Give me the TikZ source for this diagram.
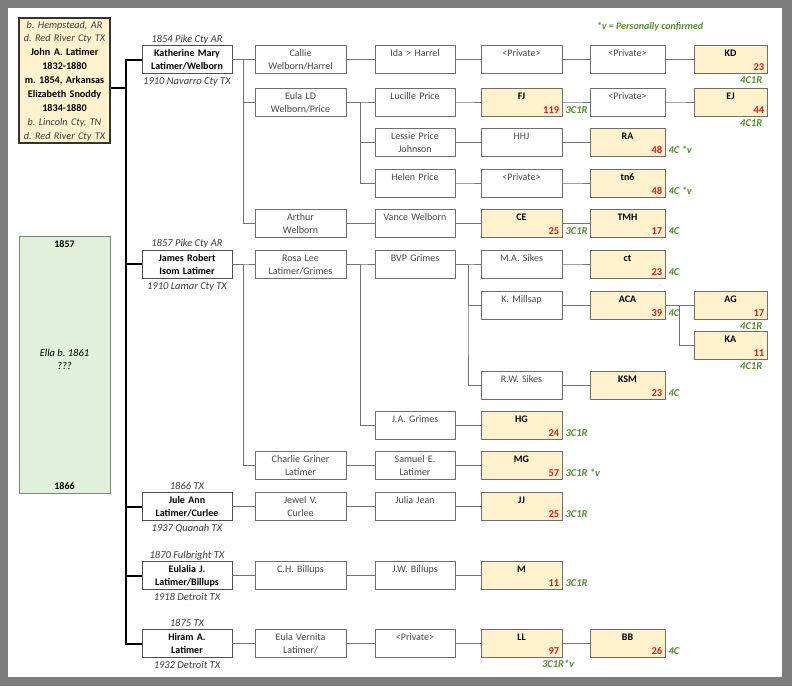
\documentclass[tikz,border=0pt]{standalone}
\usepackage{fontspec}
\setmainfont{Carlito}
\usetikzlibrary{calc}
\frenchspacing

\definecolor{framegray}{RGB}{125,125,125}
\definecolor{boxline}{RGB}{110,110,110}
\definecolor{personline}{RGB}{80,80,80}
\definecolor{linkgray}{RGB}{115,115,115}
\definecolor{kintext}{RGB}{70,70,70}
\definecolor{placetext}{RGB}{60,60,60}
\definecolor{matchfill}{RGB}{255,242,204}
\definecolor{ellafill}{RGB}{226,239,218}
\definecolor{ellaline}{RGB}{125,135,120}
\definecolor{cmred}{RGB}{230,25,25}
\definecolor{relgreen}{RGB}{84,140,46}

\begin{document}
\begin{tikzpicture}[x=1pt,y=-1pt,
        kin node/.style={draw=boxline,fill=white,text=kintext,line width=0.8pt,align=center,inner xsep=2pt,inner ysep=0pt,text height=11pt,text depth=17pt,font=\fontsize{10}{13}\selectfont},
        person node/.style={kin node,draw=personline,text=black,font=\fontsize{10}{13}\selectfont\bfseries,text width=86pt},
        match node/.style={kin node,fill=matchfill,text=black,font=\fontsize{10}{13}\selectfont\bfseries},
        root node/.style={draw=black!80,line width=1.4pt,fill=matchfill,align=center,inner xsep=2pt,inner ysep=0pt,text width=87pt,text height=10pt,text depth=115pt,font=\fontsize{10.2}{13.9}\selectfont},
        ella node/.style={draw=ellaline,line width=0.8pt,fill=ellafill,align=center,inner xsep=2pt,inner ysep=0pt,text width=87pt,text height=11pt,text depth=246pt,font=\fontsize{10}{13}\selectfont\bfseries},
        place node/.style={anchor=base,inner sep=0pt,text=placetext,font=\fontsize{10.5}{13}\selectfont\itshape},
        cm node/.style={anchor=base east,inner sep=0pt,text=cmred,font=\fontsize{10.5}{12}\selectfont\bfseries},
        rel node/.style={inner sep=0pt,text=relgreen,font=\fontsize{10.5}{12}\selectfont\bfseries\itshape},
        w2/.style={text width=87pt},
        w3/.style={text width=76pt},
        w4/.style={text width=77pt},
        w5/.style={text width=71pt},
        w6/.style={text width=69pt},
        link/.style={every edge/.style={draw=linkgray,line width=0.8pt,to path={-| ($(\tikztostart)!.5!(\tikztotarget)$) |- (\tikztotarget)}}},
        trunk/.style={every edge/.style={draw=black,line width=2pt,to path={-| ($(\tikztostart)!.5!(\tikztotarget)$) |- (\tikztotarget)}}}]
                \fill[framegray] (0,0) rectangle (792,686);
                \fill[white] (8,8) rectangle (782,677);

                \node[root node] (0) at (64.5,80.5) {\textcolor{placetext}{\itshape b. Hempstead, AR}\\\textcolor{placetext}{\itshape d. Red River Cty TX}\\\textbf{John A. Latimer}\\\textbf{1832-1880}\\\textbf{m. 1854, Arkansas}\\\textbf{Elizabeth Snoddy}\\\textbf{1834-1880}\\\textcolor{placetext}{\itshape b. Lincoln Cty, TN}\\\textcolor{placetext}{\itshape d. Red River Cty TX}};
                \coordinate (r) at ([shift={(0,7.5)}]0.east);
                \node[ella node] (51) at (64.5,364.5) {1857};
                \node[place node,anchor=center,align=center,text=black] (51a) at (64.5,359) {Ella b. 1861\\???};
                \node[place node,text=black,font=\fontsize{10}{13}\selectfont\bfseries] (51b) at ([shift={(0,-4)}]51.south) {1866};
                \node[rel node,anchor=base,font=\fontsize{10}{12}\selectfont\bfseries\itshape] (key) at (650,29) {*v = Personally confirmed};

                \node[person node] (1) at (187,59.5) {Katherine Mary\\Latimer/Welborn};
                \node[person node] (2) at (187,264) {James Robert\\Isom Latimer};
                \node[person node] (3) at (187,506.5) {Jule Ann\\Latimer/Curlee};
                \node[person node] (4) at (187,575.5) {Eulalia J.\\Latimer/Billups};
                \node[person node] (5) at (187,643.5) {Hiram A.\\Latimer};
                \node[place node] (1a) at ([shift={(0,-3)}]1.north) {1854 Pike Cty AR};
                \node[place node] (1b) at ([shift={(0,11)}]1.south) {1910 Navarro Cty TX};
                \node[place node] (2a) at ([shift={(0,-3)}]2.north) {1857 Pike Cty AR};
                \node[place node] (2b) at ([shift={(0,11)}]2.south) {1910 Lamar Cty TX};
                \node[place node] (3a) at ([shift={(0,-3)}]3.north) {1866 TX};
                \node[place node] (3b) at ([shift={(0,11)}]3.south) {1937 Quanah TX};
                \node[place node] (4a) at ([shift={(0,-3)}]4.north) {1870 Fulbright TX};
                \node[place node] (4b) at ([shift={(0,11)}]4.south) {1918 Detroit TX};
                \node[place node] (5a) at ([shift={(0,-3)}]5.north) {1875 TX};
                \node[place node] (5b) at ([shift={(0,11)}]5.south) {1932 Detroit TX};

                \node[kin node,w2] (6) at (300.5,59.5) {Callie\\Welborn/Harrel};
                \node[kin node,w2] (7) at (300.5,102) {Eula LD\\Welborn/Price};
                \node[kin node,w2] (8) at (300.5,223.5) {Arthur\\Welborn};
                \node[kin node,w2] (9) at (300.5,264) {Rosa Lee\\Latimer/Grimes};
                \node[kin node,w2] (10) at (300.5,465.5) {Charlie Griner\\Latimer};
                \node[kin node,w2] (11) at (300.5,506.5) {Jewel V.\\Curlee};
                \node[kin node,w2] (12) at (300.5,575.5) {C.H. Billups};
                \node[kin node,w2] (13) at (300.5,643.5) {Eula Vernita\\Latimer/};

                \node[kin node,w3] (14) at (415,59.5) {Ida > Harrel};
                \node[kin node,w3] (15) at (415,102) {Lucille Price};
                \node[kin node,w3] (16) at (415,142.5) {Lessie Price\\Johnson};
                \node[kin node,w3] (17) at (415,183) {Helen Price};
                \node[kin node,w3] (18) at (415,223.5) {Vance Welborn};
                \node[kin node,w3] (19) at (415,264) {BVP Grimes};
                \node[kin node,w3] (20) at (415,425.5) {J.A. Grimes};
                \node[kin node,w3] (21) at (415,465.5) {Samuel E.\\Latimer};
                \node[kin node,w3] (22) at (415,506.5) {Julia Jean};
                \node[kin node,w3] (23) at (415,575.5) {J.W. Billups};
                \node[kin node,w3] (24) at (415,643.5) {<Private>};

                \node[kin node,w4] (25) at (521.5,59.5) {<Private>};
                \node[match node,w4] (26) at (521.5,102) {FJ};
                \node[kin node,w4] (27) at (521.5,142.5) {HHJ};
                \node[kin node,w4] (28) at (521.5,183) {<Private>};
                \node[match node,w4] (29) at (521.5,223.5) {CE};
                \node[kin node,w4] (30) at (521.5,264) {M.A. Sikes};
                \node[kin node,w4] (31) at (521.5,305.5) {K. Millsap};
                \node[kin node,w4] (32) at (521.5,385.5) {R.W. Sikes};
                \node[match node,w4] (33) at (521.5,425.5) {HG};
                \node[match node,w4] (34) at (521.5,465.5) {MG};
                \node[match node,w4] (35) at (521.5,506.5) {JJ};
                \node[match node,w4] (36) at (521.5,575.5) {M};
                \node[match node,w4] (37) at (521.5,643.5) {LL};

                \node[kin node,w5] (38) at (627.5,59.5) {<Private>};
                \node[kin node,w5] (39) at (627.5,102) {<Private>};
                \node[match node,w5] (40) at (627.5,142.5) {RA};
                \node[match node,w5] (41) at (627.5,183) {tn6};
                \node[match node,w5] (42) at (627.5,223.5) {TMH};
                \node[match node,w5] (43) at (627.5,264) {ct};
                \node[match node,w5] (44) at (627.5,305.5) {ACA};
                \node[match node,w5] (45) at (627.5,385.5) {KSM};
                \node[match node,w5] (46) at (627.5,643.5) {BB};

                \node[match node,w6] (47) at (730.5,59.5) {KD};
                \node[match node,w6] (48) at (730.5,102) {EJ};
                \node[match node,w6] (49) at (730.5,305.5) {AG};
                \node[match node,w6] (50) at (730.5,345.5) {KA};

                \node[cm node] (26n) at ([shift={(-3,-3)}]26.south east) {119};
                \node[cm node] (29n) at ([shift={(-3,-3)}]29.south east) {25};
                \node[cm node] (33n) at ([shift={(-3,-3)}]33.south east) {24};
                \node[cm node] (34n) at ([shift={(-3,-3)}]34.south east) {57};
                \node[cm node] (35n) at ([shift={(-3,-3)}]35.south east) {25};
                \node[cm node] (36n) at ([shift={(-3,-3)}]36.south east) {11};
                \node[cm node] (37n) at ([shift={(-3,-3)}]37.south east) {97};
                \node[cm node] (40n) at ([shift={(-3,-3)}]40.south east) {48};
                \node[cm node] (41n) at ([shift={(-3,-3)}]41.south east) {48};
                \node[cm node] (42n) at ([shift={(-3,-3)}]42.south east) {17};
                \node[cm node] (43n) at ([shift={(-3,-3)}]43.south east) {23};
                \node[cm node] (44n) at ([shift={(-3,-3)}]44.south east) {39};
                \node[cm node] (45n) at ([shift={(-3,-3)}]45.south east) {23};
                \node[cm node] (46n) at ([shift={(-3,-3)}]46.south east) {26};
                \node[cm node] (47n) at ([shift={(-3,-3)}]47.south east) {23};
                \node[cm node] (48n) at ([shift={(-3,-3)}]48.south east) {44};
                \node[cm node] (49n) at ([shift={(-3,-3)}]49.south east) {17};
                \node[cm node] (50n) at ([shift={(-3,-3)}]50.south east) {11};

                \node[rel node,anchor=base west] (26c) at ([shift={(3,-3)}]26.south east) {3C1R};
                \node[rel node,anchor=base west] (29c) at ([shift={(3,-3)}]29.south east) {3C1R};
                \node[rel node,anchor=base west] (33c) at ([shift={(3,-3)}]33.south east) {3C1R};
                \node[rel node,anchor=base west] (34c) at ([shift={(3,-3)}]34.south east) {3C1R *v};
                \node[rel node,anchor=base west] (35c) at ([shift={(3,-3)}]35.south east) {3C1R};
                \node[rel node,anchor=base west] (36c) at ([shift={(3,-3)}]36.south east) {3C1R};
                \node[rel node,anchor=base east] (37c) at ([shift={(12,10)}]37.south east) {3C1R*v};
                \node[rel node,anchor=base west] (40c) at ([shift={(3,-3)}]40.south east) {4C *v};
                \node[rel node,anchor=base west] (41c) at ([shift={(3,-3)}]41.south east) {4C *v};
                \node[rel node,anchor=base west] (42c) at ([shift={(3,-3)}]42.south east) {4C};
                \node[rel node,anchor=base west] (43c) at ([shift={(3,-3)}]43.south east) {4C};
                \node[rel node,anchor=base west] (44c) at ([shift={(3,-3)}]44.south east) {4C};
                \node[rel node,anchor=base west] (45c) at ([shift={(3,-3)}]45.south east) {4C};
                \node[rel node,anchor=base west] (46c) at ([shift={(3,-3)}]46.south east) {4C};
                \node[rel node,anchor=base east] (47c) at ([shift={(-5,10)}]47.south east) {4C1R};
                \node[rel node,anchor=base east] (48c) at ([shift={(-5,10)}]48.south east) {4C1R};
                \node[rel node,anchor=base east] (49c) at ([shift={(-5,10)}]49.south east) {4C1R};
                \node[rel node,anchor=base east] (50c) at ([shift={(-5,10)}]50.south east) {4C1R};

                \path[trunk] (r) edge (1.west) edge (2.west) edge (3.west) edge (4.west) edge (5.west);

                \path[link]
                    (1.east) edge (6.west)
                    (1.east) edge (7.west)
                    (1.east) edge (8.west)
                    (2.east) edge (9.west)
                    (2.east) edge (10.west)
                    (3.east) edge (11.west)
                    (4.east) edge (12.west)
                    (5.east) edge (13.west)
                    (6.east) edge (14.west)
                    (7.east) edge (15.west)
                    (7.east) edge (16.west)
                    (7.east) edge (17.west)
                    (8.east) edge (18.west)
                    (9.east) edge (19.west)
                    (9.east) edge (20.west)
                    (10.east) edge (21.west)
                    (11.east) edge (22.west)
                    (12.east) edge (23.west)
                    (13.east) edge (24.west)
                    (14.east) edge (25.west)
                    (15.east) edge (26.west)
                    (16.east) edge (27.west)
                    (17.east) edge (28.west)
                    (18.east) edge (29.west)
                    (19.east) edge (30.west)
                    (19.east) edge (31.west)
                    (19.east) edge (32.west)
                    (20.east) edge (33.west)
                    (21.east) edge (34.west)
                    (22.east) edge (35.west)
                    (23.east) edge (36.west)
                    (24.east) edge (37.west)
                    (25.east) edge (38.west)
                    (26.east) edge (39.west)
                    (27.east) edge (40.west)
                    (28.east) edge (41.west)
                    (29.east) edge (42.west)
                    (30.east) edge (43.west)
                    (31.east) edge (44.west)
                    (32.east) edge (45.west)
                    (37.east) edge (46.west)
                    (38.east) edge (47.west)
                    (39.east) edge (48.west)
                    (44.east) edge (49.west)
                    (44.east) edge (50.west)
                    ;
            \end{tikzpicture}
\end{document}
